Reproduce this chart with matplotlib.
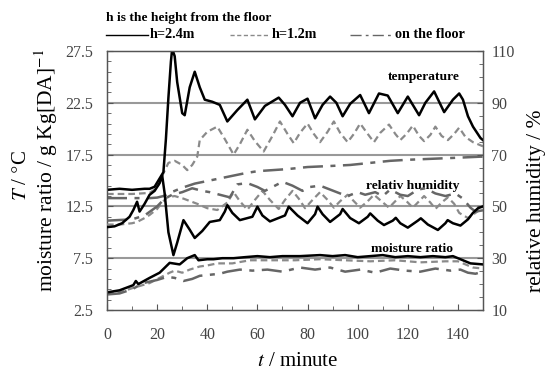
import numpy as np
import matplotlib
matplotlib.use("Agg")
import matplotlib.pyplot as plt
from matplotlib.lines import Line2D

plt.rcParams['font.family'] = ['Liberation Serif', 'DejaVu Serif']
plt.rcParams['mathtext.fontset'] = 'stix'

# temperature, h=2.4m
t_T24 = [0, 5, 10, 15, 17, 19, 21, 22.5, 23.5, 24.5, 25.5, 26, 27, 28, 30, 31, 33, 35, 37, 39,
         42, 45, 48, 52, 56, 59, 63, 68.5, 71, 74, 77, 80, 83, 86, 89, 91.5, 94, 97, 101, 104.5,
         108.5, 112, 116, 120, 124.5, 127, 130.5, 134.5, 138, 140.5, 142, 144, 146, 149, 150]
T24 = [14.1, 14.2, 14.1, 14.2, 14.2, 14.4, 15.2, 15.8, 19.0, 23.0, 26.5, 27.7, 27.0, 24.5, 21.5,
       21.3, 24.0, 25.5, 24.0, 22.8, 22.6, 22.3, 20.7, 21.8, 22.8, 20.9, 22.2, 23.0, 22.3, 21.2,
       22.5, 22.9, 21.0, 22.3, 23.1, 22.5, 21.2, 22.4, 23.25, 21.5, 23.4, 23.2, 21.5, 23.1, 21.3,
       22.5, 23.6, 21.6, 22.8, 23.4, 22.8, 21.2, 20.2, 19.1, 18.9]

# temperature, h=1.2m
t_T12 = [0, 10, 17, 20, 22.5, 24.5, 27, 30, 32, 34, 36, 37, 40, 44, 47, 50.5, 53, 56, 59, 62.5,
         66, 69, 72, 74.5, 77, 80, 82.5, 85, 88, 90.5, 93, 96, 98.5, 101, 104, 106.5, 109, 112.5,
         115, 117, 119.5, 122, 124.5, 126.5, 129, 131, 133.5, 136, 138.5, 140.5, 143, 146, 149, 150]
T12 = [13.7, 13.7, 13.8, 14.3, 15.7, 16.7, 16.9, 16.5, 16.0, 16.5, 17.3, 18.9, 19.7, 20.2, 19.0,
       17.5, 18.5, 19.9, 18.8, 17.8, 19.3, 20.7, 19.5, 18.6, 19.6, 20.5, 19.5, 18.7, 19.7, 20.7,
       19.6, 18.7, 19.5, 20.5, 19.5, 18.7, 19.6, 20.4, 19.5, 18.9, 19.5, 20.3, 19.3, 18.8, 19.4,
       20.2, 19.3, 18.9, 19.5, 20.1, 19.2, 18.7, 18.4, 18.3]

# temperature, on the floor
t_TF = [0, 10, 17, 20, 22.5, 26, 30, 35, 41, 45, 49, 55, 60, 66, 72, 80, 89, 97, 105, 113, 120,
        130, 140, 149, 150]
TF = [13.3, 13.3, 13.3, 13.35, 13.5, 13.9, 14.3, 14.7, 15.0, 15.2, 15.4, 15.7, 15.9, 16.0, 16.1,
      16.3, 16.4, 16.5, 16.7, 16.9, 17.0, 17.1, 17.2, 17.3, 17.3]

# relative humidity, h=2.4m
t_RH24 = [0, 3, 6, 9, 10.5, 12, 13, 15, 17, 19, 21, 22, 23, 24.5, 26.5, 28, 30.5, 33, 35, 38, 41,
          45, 47, 48, 50, 53, 58, 60, 62, 65, 71, 72.5, 76, 80, 83, 84, 86, 89, 93, 94, 97, 100.5,
          104, 105, 108, 110.5, 114, 115.2, 117, 120, 124, 125.2, 128, 132, 135, 135.9, 138, 141,
          144, 146, 148, 150]
RH24 = [42, 42.3, 43.5, 46, 48.6, 51.8, 48, 51, 54.5, 56, 59, 62, 55, 40, 31.2, 36, 44.7, 41,
        37.8, 40.5, 44, 44.7, 48, 50.5, 47.5, 44.7, 46, 49.9, 46.5, 44.2, 46.5, 49.9, 46.5, 43.5,
        47, 49.9, 47, 44, 47, 49.0, 45.5, 43.5, 46, 47.3, 44.5, 42.8, 44.5, 45.6, 43.5, 41.8, 44.5,
        45.4, 43, 40.9, 43.5, 44.7, 43.5, 42.6, 45, 47.5, 49.3, 50.0]

# relative humidity, h=1.2m
t_RH12 = [0, 5, 10, 12, 15, 17, 20, 22, 24, 27, 30.5, 36, 40, 44, 48, 50.5, 53, 56, 59, 62, 65,
          68.5, 71, 74, 76.5, 79, 82, 85, 88, 90.5, 93, 96, 98.5, 101, 104, 106.5, 109.5, 112.5,
          115, 117, 119.5, 122, 124.5, 126.5, 129, 131, 133.5, 136, 138.5, 140.5, 144, 147, 149, 150]
RH12 = [43, 43, 43.5, 44, 45.5, 46.7, 49, 51.5, 53.5, 54, 53, 51, 49.3, 48.6, 51.5, 55.5, 52,
        48.7, 52.5, 56, 52.5, 49, 52.5, 56, 53, 49.3, 52.5, 55.5, 52.5, 49.5, 52, 54.5, 52, 49.5,
        52, 54.5, 52, 49.5, 52, 54, 52, 49.5, 52, 54, 51.5, 49, 51.5, 53.5, 51, 47.5, 45.5, 47.5,
        49, 49]

# relative humidity, on the floor
t_RHF = [0, 10, 15, 20, 23, 26, 30, 34, 38, 41, 45, 49, 52, 56, 60, 63, 67, 70, 74, 78, 81, 85,
         89, 93, 96, 100, 103, 107, 110, 113, 117, 120, 124, 127, 131, 135, 139, 142, 145, 147, 150]
RHF = [44.5, 45, 46.5, 50, 53, 54.5, 55.5, 57, 56, 55.5, 54.5, 53.5, 58.5, 59, 57.5, 56, 58,
       59.5, 58, 56, 57.5, 58, 56.5, 55, 54, 55.5, 54.5, 55.5, 54, 56.5, 54.5, 54, 56.5, 57, 55,
       54, 55, 53, 49.5, 48, 48.5]

# moisture ratio
t_M24 = [0, 5, 10.5, 11.5, 12.5, 17, 21, 25, 29, 32, 35, 36.5, 40, 42.5, 46, 50.5, 55, 60, 65,
         70, 77, 85, 90, 95, 100, 105, 110, 115, 120, 125, 130, 135, 138, 141, 145, 150]
M24 = [4.2, 4.4, 4.9, 5.3, 5.0, 5.6, 6.1, 7.05, 6.9, 7.5, 7.8, 7.3, 7.4, 7.4, 7.5, 7.5, 7.6,
       7.7, 7.6, 7.7, 7.7, 7.8, 7.7, 7.8, 7.6, 7.7, 7.8, 7.6, 7.7, 7.6, 7.7, 7.6, 7.7, 7.4, 7.0,
       6.9]
t_M12 = [0, 5, 10, 17, 21, 25, 27, 30, 33, 37, 40, 44, 50, 57, 65, 75, 85, 95, 105, 115, 125,
         135, 140, 143, 146, 150]
M12 = [4.1, 4.2, 4.6, 5.1, 5.6, 6.1, 6.3, 6.1, 6.4, 6.7, 6.8, 7.0, 7.0, 7.3, 7.3, 7.3, 7.4,
       7.3, 7.2, 7.3, 7.1, 7.2, 7.2, 6.9, 6.6, 6.5]
t_MF = [0, 5, 10, 14.5, 20, 24, 27, 30.5, 34, 37, 41, 45, 48, 53, 58, 64, 70, 77, 83, 89, 95,
        101, 107, 113, 119, 125, 131, 137, 141, 144, 147, 150]
MF = [4.0, 4.1, 4.5, 5.1, 5.4, 5.7, 5.6, 5.3, 5.5, 5.8, 5.9, 6.0, 6.2, 6.4, 6.3, 6.4, 6.2, 6.6,
      6.4, 6.6, 6.2, 6.4, 6.1, 6.5, 6.3, 6.2, 6.5, 6.3, 6.4, 6.1, 6.0, 6.2]

left_ticks = [2.5, 7.5, 12.5, 17.5, 22.5, 27.5]
right_ticks = [10, 30, 50, 70, 90, 110]
x_ticks = [0, 20, 40, 60, 80, 100, 120, 140]

s24 = dict(color='black', lw=1.8, ls='-')
s12 = dict(color='#8a8a8a', lw=1.6, ls=(0, (3, 1.8)))
sF = dict(color='#666666', lw=1.8, ls=(0, (8, 3, 2, 3)))

fig = plt.figure(figsize=(5.48, 3.70), dpi=100)
ax = fig.add_axes([107/548, 1-310/370, 376/548, 259/370])
ax2 = ax.twinx()

for g in [7.5, 12.5, 17.5, 22.5]:
    ax.axhline(g, color='#999999', lw=1.5, zorder=1)

ax.plot(t_T24, T24, **s24, zorder=4)
ax.plot(t_T12, T12, **s12, zorder=3)
ax.plot(t_TF, TF, **sF, zorder=3)
ax.plot(t_M24, M24, **s24, zorder=4)
ax.plot(t_M12, M12, **s12, zorder=3)
ax.plot(t_MF, MF, **sF, zorder=3)
ax2.plot(t_RH24, RH24, **s24, zorder=4)
ax2.plot(t_RH12, RH12, **s12, zorder=3)
ax2.plot(t_RHF, RHF, **sF, zorder=3)

ax.set_xlim(0, 150)
ax.set_ylim(2.5, 27.5)
ax2.set_ylim(10, 110)
ax.set_xticks(x_ticks)
ax.set_xticks(np.arange(10, 150, 20), minor=True)
ax.set_yticks(left_ticks)
ax.set_yticks(np.arange(3.5, 27, 1), minor=True)
ax2.set_yticks(right_ticks)
ax2.set_yticks(np.arange(15, 110, 5), minor=True)

tc = '#444444'
for a in (ax, ax2):
    a.tick_params(which='both', direction='in', color='#555555', labelcolor=tc, labelsize=11.5)
    a.tick_params(which='major', length=4)
    a.tick_params(which='minor', length=3)
    for sp in a.spines.values():
        sp.set_color('#555555')
        sp.set_linewidth(0.9)
ax.tick_params(axis='x', pad=12)
ax.tick_params(axis='y', pad=10)
ax2.tick_params(axis='y', pad=6)

# axis titles
fig.text(298/548, 1-361/370, '$t$ / minute', fontsize=15, ha='center', va='center')
fig.text(21/548, 1-176/370, '$T$ / $\\degree$C', fontsize=15, ha='center', va='center',
         rotation=90)
fig.text(46/548, 1-170/370, 'moisture ratio / g Kg[DA]$^{-1}$', fontsize=15.5, ha='center',
         va='center', rotation=90)
fig.text(536/548, 1-201/370, 'relative humidity / %', fontsize=15.5, ha='center', va='center',
         rotation=90)

ax.text(126.4, 25.0, 'temperature', fontsize=9.7, weight='bold', ha='center', va='center')
ax.text(122, 14.45, 'relativ humidity', fontsize=9.7, weight='bold', ha='center', va='center')
ax.text(121.6, 8.4, 'moisture ratio', fontsize=9.7, weight='bold', ha='center', va='center')

fig.text(106/548, 1-18/370, 'h is the height from the floor', fontsize=9.7, weight='bold',
         va='center')
ly = 1-35/370
items = [(106, 148, 150, 'h=2.4m', s24), (230, 268, 272, 'h=1.2m', s12),
         (350, 392, 395, 'on the floor', sF)]
for x0, x1, xt, lab, st in items:
    st2 = dict(st)
    st2['lw'] = 1.0
    fig.add_artist(Line2D([x0/548, x1/548], [ly, ly], transform=fig.transFigure, **st2))
    fig.text(xt/548, ly, lab, fontsize=10.2, weight='bold', va='center')

fig.savefig('out.png', dpi=100)
